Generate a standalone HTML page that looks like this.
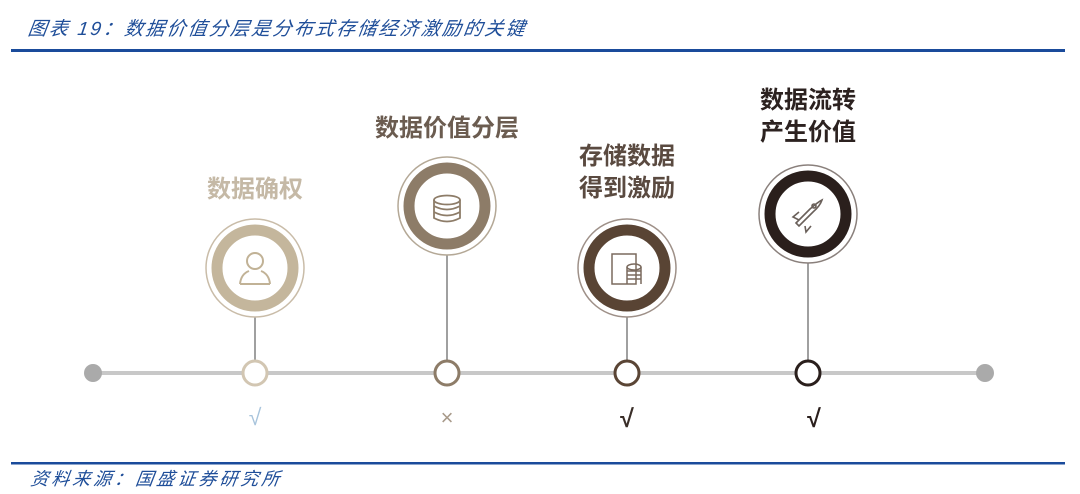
<!DOCTYPE html>
<html><head><meta charset="utf-8"><style>
html,body{margin:0;padding:0;background:#fff;}
svg{display:block;}
.t{font-family:"Liberation Sans","Noto Sans CJK SC",sans-serif;}
</style></head><body>
<svg width="1080" height="494" viewBox="0 0 1080 494" xmlns="http://www.w3.org/2000/svg">
<text class="t" x="28" y="35" font-size="19" font-style="italic" fill="#1f4e99" letter-spacing="2.2" transform="skewX(-8) translate(4,0)">图表 19：数据价值分层是分布式存储经济激励的关键</text>
<rect x="11" y="49" width="1054" height="3" fill="#1a4b9b"/>
<rect x="11" y="462" width="1054" height="2.5" fill="#1a4b9b"/>
<text class="t" x="30" y="485" font-size="18" font-style="italic" fill="#1f4e99" letter-spacing="3" transform="skewX(-8) translate(68,0)">资料来源：国盛证券研究所</text>

<line x1="93" y1="373" x2="985" y2="373" stroke="#c8c8c8" stroke-width="4"/>
<circle cx="93" cy="373" r="9" fill="#aaaaaa"/>
<circle cx="985" cy="373" r="9" fill="#aaaaaa"/>

<!-- node 1 -->
<line x1="255" y1="310" x2="255" y2="362" stroke="#a0a0a0" stroke-width="2"/>
<circle cx="255" cy="268" r="49" fill="#fff" stroke="#c9bca8" stroke-width="1.5"/>
<circle cx="255" cy="268" r="38" fill="none" stroke="#c4b69c" stroke-width="11"/>
<circle cx="255" cy="268" r="32" fill="#fff"/>
<g fill="none" stroke="#c1b296" stroke-width="2">
<circle cx="255" cy="261" r="8"/>
<path d="M240 284 q1 -10 9 -13 M270 284 q-1 -10 -9 -13 M240 284 h30"/>
</g>
<circle cx="255" cy="373" r="12" fill="#fff" stroke="#d2c6b2" stroke-width="3"/>
<text class="t" x="255" y="197" font-size="24" font-weight="bold" fill="#c5b9a6" text-anchor="middle">数据确权</text>
<text class="t" x="255" y="425" font-size="23" fill="#a8c4dc" text-anchor="middle">√</text>

<!-- node 2 -->
<line x1="447" y1="250" x2="447" y2="362" stroke="#a0a0a0" stroke-width="2"/>
<circle cx="447" cy="206" r="49" fill="#fff" stroke="#b4a896" stroke-width="1.5"/>
<circle cx="447" cy="206" r="38" fill="none" stroke="#8d7c68" stroke-width="11"/>
<circle cx="447" cy="206" r="32" fill="#fff"/>
<g fill="none" stroke="#8d7c68" stroke-width="1.8">
<ellipse cx="447" cy="200" rx="13" ry="4.5"/>
<path d="M434 200 v18 q13 7 26 0 v-18 M434 206 q13 7 26 0 M434 212 q13 7 26 0"/>
</g>
<circle cx="447" cy="373" r="12" fill="#fff" stroke="#8d7c68" stroke-width="3"/>
<text class="t" x="447" y="136" font-size="24" font-weight="bold" fill="#6b5c50" text-anchor="middle">数据价值分层</text>
<text class="t" x="447" y="425" font-size="22" fill="#a89a8a" text-anchor="middle">×</text>

<!-- node 3 -->
<line x1="627" y1="310" x2="627" y2="362" stroke="#a0a0a0" stroke-width="2"/>
<circle cx="627" cy="268" r="49" fill="#fff" stroke="#9e9088" stroke-width="1.5"/>
<circle cx="627" cy="268" r="38" fill="none" stroke="#594434" stroke-width="11"/>
<circle cx="627" cy="268" r="32" fill="#fff"/>
<g fill="none" stroke="#7a6a5e" stroke-width="1.5">
<rect x="612" y="254" width="24" height="30"/>
<ellipse cx="634" cy="267" rx="7" ry="3"/>
<path d="M627 267 v17 M641 267 v17 M627 271 h14 M627 275 h14 M627 279 h14"/>
</g>
<circle cx="627" cy="373" r="12" fill="#fff" stroke="#5a4535" stroke-width="3"/>
<text class="t" x="627" y="164" font-size="24" font-weight="bold" fill="#5a4a40" text-anchor="middle">存储数据</text>
<text class="t" x="627" y="196" font-size="24" font-weight="bold" fill="#5a4a40" text-anchor="middle">得到激励</text>
<text class="t" x="627" y="427" font-size="25" font-weight="bold" fill="#3a2e28" text-anchor="middle">√</text>

<!-- node 4 -->
<line x1="808" y1="256" x2="808" y2="362" stroke="#a0a0a0" stroke-width="2"/>
<circle cx="808" cy="214" r="49" fill="#fff" stroke="#8a807c" stroke-width="1.5"/>
<circle cx="808" cy="214" r="38" fill="none" stroke="#2a1f1c" stroke-width="11"/>
<circle cx="808" cy="214" r="32" fill="#fff"/>
<g fill="none" stroke="#6a605a" stroke-width="1.6">
<path d="M796 223 l14 -14 q8 -7 12 -9 q-2 6 -9 12 l-14 14 z"/>
<circle cx="814" cy="206" r="2"/>
<path d="M799 220 l-6 -3 l6 -5 M805 226 l1 6 l5 -6"/>
</g>
<circle cx="808" cy="373" r="12" fill="#fff" stroke="#2a1f1c" stroke-width="3"/>
<text class="t" x="808" y="108" font-size="24" font-weight="bold" fill="#2c2220" text-anchor="middle">数据流转</text>
<text class="t" x="808" y="140" font-size="24" font-weight="bold" fill="#2c2220" text-anchor="middle">产生价值</text>
<text class="t" x="814" y="427" font-size="25" font-weight="bold" fill="#2a1f1c" text-anchor="middle">√</text>
</svg>
</body></html>
